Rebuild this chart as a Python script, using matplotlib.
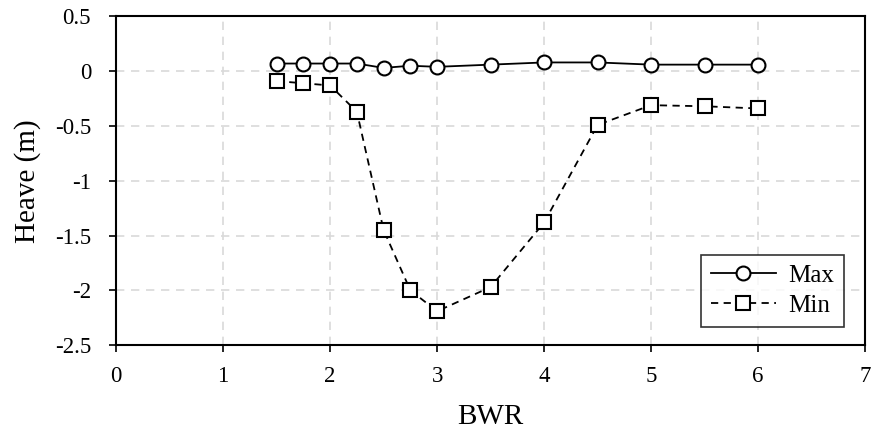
import matplotlib
matplotlib.use("Agg")
import matplotlib.pyplot as plt

plt.rcParams['font.family'] = ['Liberation Serif', 'DejaVu Serif']

bwr = [1.5, 1.75, 2.0, 2.25, 2.5, 2.75, 3.0, 3.5, 4.0, 4.5, 5.0, 5.5, 6.0]
heave_max = [0.07, 0.07, 0.07, 0.07, 0.03, 0.05, 0.04, 0.06, 0.08, 0.08, 0.06, 0.06, 0.06]
heave_min = [-0.09, -0.11, -0.13, -0.37, -1.45, -2.0, -2.19, -1.97, -1.38, -0.49, -0.31, -0.32, -0.34]

fig = plt.figure(figsize=(8.73, 4.32), dpi=100)
ax = fig.add_axes([0.133, 0.201, 0.858, 0.761])

ax.plot(bwr, heave_max, '-', color='black', lw=1.3, marker='o', ms=10,
        mfc='white', mec='black', mew=1.5, label='Max')
ax.plot(bwr, heave_min, '--', color='black', lw=1.3, marker='s', ms=10,
        mfc='white', mec='black', mew=1.5, label='Min', dashes=(4, 3))

ax.set_xlim(0, 7)
ax.set_ylim(-2.5, 0.5)
ax.set_xticks(range(0, 8))
ax.set_yticks([0.5, 0, -0.5, -1, -1.5, -2, -2.5])
ax.set_yticklabels(['0.5', '0', '-0.5', '-1', '-1.5', '-2', '-2.5'])
ax.grid(True, color='#d9d9d9', linestyle=(0, (5, 4)), lw=1.2)
ax.set_axisbelow(True)
for s in ax.spines.values():
    s.set_linewidth(1.5)
ax.tick_params(labelsize=16.5, direction='out', length=5, width=1.2)
ax.tick_params(axis='x', pad=10)
ax.tick_params(axis='y', pad=13)

ax.set_xlabel('BWR', fontsize=21, labelpad=12)
ax.set_ylabel('Heave (m)', fontsize=21, labelpad=10)

leg = ax.legend(loc='lower right', fontsize=18, frameon=True, fancybox=False,
                edgecolor='black', handlelength=2.6, borderpad=0.4,
                labelspacing=0.3, handletextpad=0.5, borderaxespad=0,
                bbox_to_anchor=(0.972, 0.055))
leg.get_frame().set_linewidth(1.2)

fig.savefig('out.png', dpi=100)
